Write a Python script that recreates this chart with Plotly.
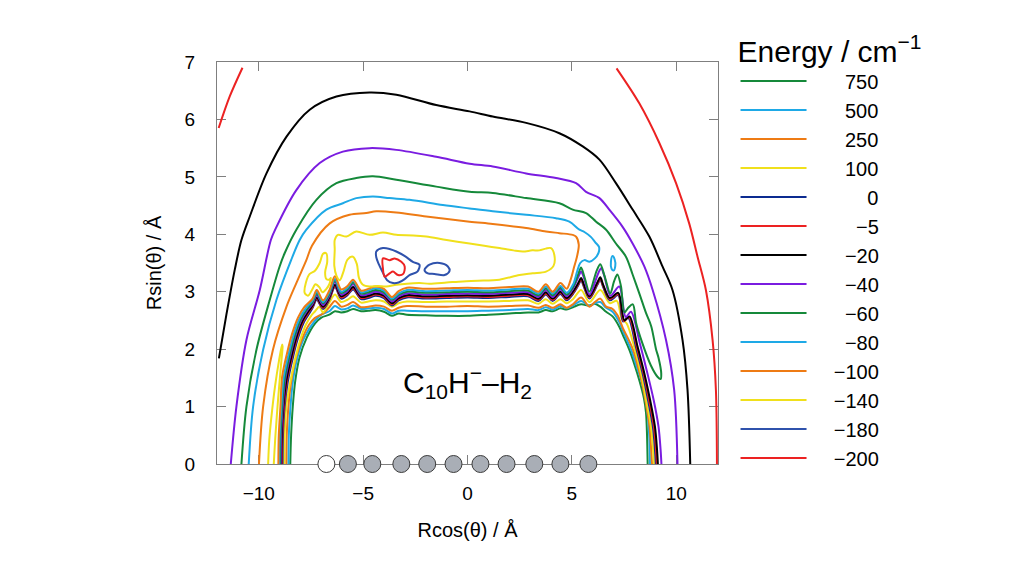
import plotly.graph_objects as go

# ---------------- data ----------------
levels = ["750", "500", "250", "100", "0", "−5", "−20", "−40", "−60", "−80", "−100", "−140", "−180", "−200"]

e750 = [(-8.49,0.00),(-8.45,0.50),(-8.37,1.00),(-8.25,1.45),(-8.05,1.85),(-7.70,2.20),(-7.30,2.45),(-7.00,2.55),
        (-6.62,2.60),(-6.35,2.66),(-6.05,2.64),(-5.75,2.66),(-5.48,2.70),(-5.10,2.66),(-4.75,2.67),(-4.40,2.68),
        (-4.00,2.65),(-3.62,2.58),(-3.30,2.62),(-2.90,2.60),(-2.00,2.59),(-1.00,2.58),(0.00,2.58),(1.00,2.60),
        (2.00,2.62),(2.90,2.64),(3.40,2.64),(3.75,2.68),(4.08,2.66),(4.45,2.71),(4.75,2.69),(5.05,2.73),(5.44,2.78),
        (5.84,2.76),(6.10,2.79),(6.36,2.74),(6.64,2.65),(6.95,2.57),(7.27,2.39),(7.50,2.20),(7.75,1.99),(8.00,1.73),
        (8.23,1.46),(8.45,1.15),(8.55,0.90),(8.60,0.50),(8.63,0.00)]

e500 = [(-8.58,0.00),(-8.56,0.50),(-8.48,1.00),(-8.36,1.45),(-8.15,1.85),(-7.82,2.20),(-7.32,2.49),(-7.00,2.60),
        (-6.62,2.66),(-6.35,2.75),(-6.05,2.69),(-5.75,2.71),(-5.48,2.76),(-5.10,2.70),(-4.75,2.71),(-4.40,2.72),
        (-4.00,2.70),(-3.62,2.62),(-3.30,2.67),(-2.90,2.67),(-2.00,2.66),(-1.00,2.66),(0.00,2.66),(1.00,2.67),
        (2.00,2.68),(2.90,2.70),(3.40,2.68),(3.75,2.73),(4.08,2.69),(4.45,2.75),(4.75,2.71),(5.05,2.76),(5.44,2.84),
        (5.84,2.75),(6.10,2.80),(6.36,2.82),(6.64,2.72),(6.95,2.65),(7.27,2.47),(7.50,2.27),(7.85,1.98),(8.10,1.70),
        (8.33,1.45),(8.53,1.12),(8.65,0.80),(8.71,0.45),(8.74,0.00)]

e250 = [(-8.68,0.00),(-8.66,0.50),(-8.58,1.00),(-8.44,1.45),(-8.22,1.85),(-7.92,2.18),(-7.60,2.42),(-7.32,2.54),
        (-6.92,2.62),(-6.62,2.73),(-6.35,2.84),(-6.05,2.74),(-5.75,2.77),(-5.48,2.82),(-5.10,2.73),(-4.75,2.74),
        (-4.40,2.76),(-4.00,2.74),(-3.62,2.67),(-3.30,2.72),(-2.90,2.75),(-2.00,2.74),(-1.00,2.74),(0.00,2.75),
        (1.00,2.74),(2.00,2.75),(2.90,2.76),(3.40,2.72),(3.75,2.77),(4.08,2.72),(4.45,2.78),(4.75,2.72),(5.05,2.78),
        (5.44,2.90),(5.84,2.74),(6.10,2.82),(6.36,2.88),(6.64,2.74),(6.95,2.70),(7.20,2.58),(7.45,2.36),(7.70,2.18),
        (7.95,1.97),(8.20,1.65),(8.40,1.35),(8.55,1.05),(8.72,0.65),(8.80,0.25),(8.84,0.00)]

e100 = [(-8.78,0.00),(-8.76,0.50),(-8.68,1.00),(-8.51,1.39),(-8.28,1.79),(-8.03,2.14),(-7.75,2.42),(-7.45,2.60),
        (-7.30,2.66),(-7.10,2.74),(-6.92,2.64),(-6.62,2.81),(-6.35,2.95),(-6.05,2.82),(-5.75,2.86),(-5.48,2.92),
        (-5.10,2.81),(-4.75,2.83),(-4.40,2.85),(-4.00,2.83),(-3.62,2.74),(-3.30,2.80),(-2.90,2.83),(-2.00,2.82),
        (-1.00,2.83),(0.00,2.83),(1.00,2.83),(2.00,2.84),(2.90,2.85),(3.40,2.79),(3.75,2.87),(4.08,2.79),(4.45,2.87),
        (4.75,2.80),(5.05,2.87),(5.44,3.03),(5.84,2.82),(6.36,3.03),(6.82,2.80),(7.15,2.84),(7.40,2.52),(7.62,2.45),
        (8.02,1.99),(8.34,1.53),(8.56,1.11),(8.79,0.65),(8.89,0.25),(8.93,0.00)]

e0 = [(-8.86,0.00),(-8.84,0.50),(-8.76,1.00),(-8.61,1.43),(-8.38,1.83),(-8.13,2.18),(-7.85,2.46),(-7.55,2.64),
      (-7.42,2.72),(-7.22,2.86),(-6.92,2.70),(-6.62,2.86),(-6.35,3.08),(-6.05,2.88),(-5.75,2.94),(-5.48,3.04),
      (-5.10,2.87),(-4.75,2.89),(-4.40,2.93),(-4.00,2.89),(-3.62,2.76),(-3.30,2.85),(-2.90,2.90),(-2.00,2.88),
      (-1.00,2.89),(0.00,2.90),(1.00,2.89),(2.00,2.91),(2.90,2.92),(3.40,2.84),(3.75,2.95),(4.08,2.84),(4.45,2.96),
      (4.75,2.85),(5.05,2.96),(5.32,3.12),(5.44,3.20),(5.56,3.10),(5.84,2.88),(6.22,3.12),(6.36,3.21),(6.50,3.08),
      (6.82,2.85),(7.22,2.94),(7.45,2.48),(7.69,2.55),
      (8.08,2.02),(8.40,1.56),(8.65,1.11),(8.88,0.65),(8.98,0.25),(9.02,0.00)]

em5 = [(-8.89,0.00),(-8.87,0.50),(-8.79,1.00),(-8.65,1.44),(-8.42,1.84),(-8.17,2.19),(-7.89,2.47),(-7.59,2.65),
       (-7.42,2.74),(-7.22,2.88),(-6.92,2.72),(-6.62,2.88),(-6.35,3.10),(-6.05,2.90),(-5.75,2.96),(-5.48,3.06),
       (-5.10,2.89),(-4.75,2.91),(-4.40,2.95),(-4.00,2.91),(-3.62,2.78),(-3.30,2.87),(-2.90,2.92),(-2.00,2.90),
       (-1.00,2.91),(0.00,2.92),(1.00,2.91),(2.00,2.93),(2.90,2.94),(3.40,2.86),(3.75,2.97),(4.08,2.86),(4.45,2.98),
       (4.75,2.87),(5.05,2.98),(5.32,3.14),(5.44,3.22),(5.56,3.12),(5.84,2.90),(6.22,3.14),(6.36,3.23),(6.50,3.10),
       (6.82,2.87),(7.22,2.96),(7.49,2.49),(7.73,2.56),
       (8.12,2.03),(8.44,1.57),(8.70,1.11),(8.93,0.65),(9.03,0.25),(9.07,0.00),
       (None,None),
       (-11.92,5.85),(-11.39,6.40),(-10.78,6.90),
       (None,None),
       (7.14,6.89),(8.23,6.28),(9.19,5.59),(9.99,4.89),(10.62,4.19),(11.02,3.61),(11.42,3.03),(11.74,2.16),
       (11.90,1.29),(11.95,0.00)]

em20 = [(-8.92,0.00),(-8.90,0.50),(-8.82,1.00),(-8.68,1.45),(-8.45,1.85),(-8.20,2.20),(-7.92,2.48),(-7.62,2.66),
        (-7.42,2.76),(-7.22,2.90),(-6.92,2.74),(-6.62,2.90),(-6.35,3.12),(-6.05,2.92),(-5.75,2.98),(-5.48,3.08),
        (-5.10,2.91),(-4.75,2.93),(-4.40,2.97),(-4.00,2.93),(-3.62,2.80),(-3.30,2.89),(-2.90,2.94),(-2.00,2.92),
        (-1.00,2.93),(0.00,2.94),(1.00,2.93),(2.00,2.95),(2.90,2.96),(3.40,2.88),(3.75,2.99),(4.08,2.88),(4.45,3.00),
        (4.75,2.89),(5.05,3.00),(5.32,3.16),(5.44,3.24),(5.56,3.14),(5.84,2.92),(6.22,3.16),(6.36,3.25),(6.50,3.12),
        (6.82,2.89),(7.22,2.98),(7.52,2.50),(7.76,2.57),
        (8.15,2.04),(8.47,1.58),(8.75,1.11),(8.98,0.65),(9.08,0.25),(9.12,0.00),
        (None,None),
        (-11.91,1.84),(-11.55,2.60),(-11.15,3.38),(-10.83,3.90),(-10.43,4.31),(-9.63,5.06),(-8.67,5.70),(-7.56,6.17),
        (-6.28,6.40),(-4.69,6.47),(-3.41,6.43),(-1.50,6.25),(0.10,6.14),(1.21,6.05),(2.81,5.94),(4.40,5.76),
        (5.52,5.53),(6.32,5.30),(7.11,4.89),(7.91,4.43),(8.71,3.96),(9.34,3.44),(9.82,3.03),(10.30,2.16),
        (10.54,1.29),(10.67,0.00)]

em40 = [(-8.95,0.00),(-8.93,0.50),(-8.85,1.00),(-8.73,1.47),(-8.50,1.87),(-8.25,2.22),(-7.97,2.50),(-7.67,2.68),
        (-7.42,2.79),(-7.22,2.94),(-6.92,2.77),(-6.62,2.93),(-6.35,3.17),(-6.05,2.95),(-5.75,3.01),(-5.48,3.13),
        (-5.10,2.94),(-4.75,2.96),(-4.40,3.00),(-4.00,2.96),(-3.62,2.83),(-3.30,2.92),(-2.90,2.97),(-2.00,2.95),
        (-1.00,2.96),(0.00,2.97),(1.00,2.96),(2.00,2.98),(2.90,2.99),(3.40,2.91),(3.75,3.03),(4.08,2.91),(4.45,3.04),
        (4.75,2.92),(5.05,3.05),(5.30,3.25),(5.44,3.35),(5.58,3.24),(5.84,2.95),(6.24,3.30),(6.40,3.41),(6.55,3.28),
        (6.85,2.93),(7.27,3.09),(7.58,2.56),(7.83,2.65),
        (8.27,2.08),(8.59,1.62),(8.92,1.11),(9.15,0.65),(9.25,0.25),(9.29,0.00),
        (None,None),
        (-11.34,0.00),(-11.07,1.00),(-10.59,2.16),(-9.95,3.03),(-9.42,3.90),(-9.15,4.13),(-8.20,4.77),(-7.08,5.24),
        (-5.97,5.44),(-4.69,5.50),(-3.41,5.47),(-1.50,5.35),(0.10,5.23),(1.21,5.18),(2.81,5.06),(4.24,4.98),
        (5.20,4.89),(5.68,4.74),(6.32,4.63),(6.79,4.43),(7.43,4.13),(7.91,3.84),(8.47,3.44),(8.87,3.03),
        (9.51,2.16),(9.90,1.29),(10.06,0.00)]

em60 = [(-8.98,0.00),(-8.96,0.50),(-8.88,1.00),(-8.76,1.48),(-8.53,1.88),(-8.28,2.23),(-8.00,2.51),(-7.70,2.69),
        (-7.42,2.82),(-7.22,2.97),(-6.92,2.80),(-6.62,2.96),(-6.35,3.20),(-6.05,2.98),(-5.75,3.04),(-5.48,3.16),
        (-5.10,2.97),(-4.75,2.99),(-4.40,3.03),(-4.00,2.99),(-3.62,2.86),(-3.30,2.95),(-2.90,3.00),(-2.00,2.98),
        (-1.00,2.99),(0.00,3.00),(1.00,2.99),(2.00,3.01),(2.90,3.02),(3.40,2.94),(3.75,3.06),(4.08,2.94),(4.45,3.07),
        (4.75,2.95),(5.05,3.08),(5.30,3.30),(5.44,3.42),(5.60,3.26),(5.84,3.00),(6.18,3.36),(6.36,3.48),(6.56,3.28),
        (6.84,2.97),(7.02,3.18),(7.18,3.30),(7.35,3.10),(7.52,2.64),(7.70,2.72),(7.92,2.78),(8.08,2.45),(8.38,2.10),
        (8.78,1.72),(9.10,1.52),(9.25,1.48),(9.28,1.58),(9.15,1.85),(9.03,2.00),(8.80,2.40),(8.55,2.63),(8.25,2.95),
        (7.91,3.30),(7.59,3.61),(7.11,3.84),(6.64,4.08),(6.16,4.22),(5.68,4.37),(5.04,4.43),(4.40,4.54),(2.81,4.63),
        (1.21,4.72),(0.10,4.74),(-1.50,4.83),(-3.41,4.95),(-4.53,5.01),(-5.33,4.98),(-6.28,4.89),(-7.24,4.60),
        (-8.20,4.08),(-8.76,3.67),(-9.00,3.44),(-9.47,2.86),(-10.11,1.99),(-10.59,1.00),(-10.83,0.00)]

em80 = [(-9.02,0.00),(-9.00,0.50),(-8.92,1.00),(-8.81,1.50),(-8.58,1.90),(-8.33,2.25),(-8.05,2.53),(-7.75,2.71),
        (-7.42,2.85),(-7.22,3.00),(-6.92,2.82),(-6.62,2.99),(-6.35,3.22),(-6.05,3.00),(-5.75,3.07),(-5.48,3.19),
        (-5.10,2.99),(-4.75,3.02),(-4.40,3.06),(-4.00,3.02),(-3.62,2.88),(-3.30,2.97),(-2.90,3.03),(-2.00,3.01),
        (-1.00,3.02),(0.00,3.03),(1.00,3.02),(2.00,3.04),(2.90,3.05),(3.40,2.97),(3.75,3.09),(4.08,2.97),(4.45,3.10),
        (4.75,2.98),(5.05,3.12),(5.25,3.35),(5.40,3.50),(5.60,3.55),(5.84,3.52),(6.10,3.58),(6.28,3.68),(6.30,3.78),
        (6.12,3.86),(5.92,3.95),(5.60,4.04),(5.36,4.08),(4.88,4.22),(4.24,4.28),(2.81,4.34),(1.21,4.40),(0.10,4.45),
        (-1.18,4.51),(-2.78,4.60),(-3.73,4.63),(-4.53,4.66),(-5.33,4.63),(-5.97,4.54),(-6.76,4.43),(-7.72,4.08),
        (-8.04,3.90),(-8.45,3.55),(-9.15,2.86),(-9.79,1.99),(-10.27,1.00),(-10.48,0.00),
        (None,None),
        (6.95,3.62),(7.05,3.56),(7.08,3.45),(7.00,3.37),(6.90,3.40),(6.87,3.52),(6.95,3.62)]

em100 = [(-9.06,0.00),(-9.04,0.50),(-8.96,1.00),(-8.88,1.52),(-8.65,1.92),(-8.40,2.27),(-8.12,2.55),(-7.82,2.73),
         (-7.42,2.88),(-7.22,3.03),(-6.92,2.85),(-6.62,3.02),(-6.35,3.27),(-6.05,3.04),(-5.75,3.10),(-5.48,3.21),
         (-5.10,3.02),(-4.75,3.05),(-4.40,3.09),(-4.00,3.05),(-3.62,2.91),(-3.30,3.01),(-2.90,3.07),(-2.00,3.05),
         (-1.00,3.06),(0.00,3.07),(1.00,3.06),(2.00,3.08),(2.90,3.09),(3.40,3.00),(3.75,3.13),(4.08,3.00),(4.45,3.15),
         (4.75,3.05),(4.95,3.22),(5.10,3.42),(5.25,3.62),(5.33,3.82),(5.20,3.96),(5.04,3.99),(4.40,4.02),(3.76,4.05),
         (2.81,4.11),(1.21,4.18),(0.10,4.22),(-1.98,4.31),(-3.41,4.38),(-4.37,4.40),(-4.85,4.37),(-5.65,4.34),
         (-6.60,4.19),(-7.45,3.80),(-7.72,3.55),(-8.20,3.15),(-8.67,2.74),(-9.32,1.99),(-9.79,1.00),(-9.99,0.00)]

em140 = [(-6.21,3.99),(-5.80,3.96),(-5.33,4.05),(-4.69,3.99),(-4.05,4.03),(-3.41,3.99),(-2.60,3.98),(-1.98,3.96),
         (-1.00,3.90),(0.10,3.84),(0.80,3.80),(1.53,3.76),(2.20,3.72),(2.65,3.70),(3.10,3.72),(3.44,3.72),(3.75,3.75),
         (4.00,3.76),(4.16,3.64),(4.12,3.45),(3.76,3.35),(3.12,3.32),(2.49,3.29),(1.53,3.21),(0.50,3.19),(-0.22,3.18),
         (-1.00,3.16),(-1.82,3.14),(-2.30,3.15),(-2.90,3.14),(-3.41,3.12),(-3.89,3.09),(-4.30,3.10),(-4.69,3.09),
         (-5.01,3.12),(-5.20,3.24),(-5.30,3.48),(-5.49,3.61),(-5.75,3.56),(-5.95,3.34),(-6.12,3.20),(-6.28,3.28),
         (-6.38,3.45),(-6.36,3.73),(-6.36,3.90),(-6.21,3.99),
         (None,None),
         (-6.55,3.24),(-6.62,3.21),(-6.76,3.22),(-6.82,3.34),(-6.72,3.52),(-6.77,3.67),(-6.92,3.66),(-7.08,3.50),
         (-7.32,3.36),(-7.56,3.31),(-7.74,3.16),(-7.80,2.98),(-7.64,2.93),(-7.45,3.03),(-7.28,3.13),(-7.10,3.08),
         (-6.95,2.99),(-6.78,3.04),(-6.62,3.13),(-6.55,3.24),
         (None,None),
         (-9.55,0.00),(-9.50,0.40),(-9.40,0.80),(-9.22,1.35),(-9.03,1.80),(-8.88,2.08),(-8.86,2.05),(-8.94,1.70),
         (-9.08,1.10),(-9.20,0.50),(-9.28,0.00)]

em180 = [(-4.37,3.70),(-4.05,3.76),(-3.70,3.74),(-3.41,3.70),(-3.00,3.62),(-2.62,3.52),(-2.30,3.47),(-2.40,3.35),
         (-2.78,3.29),(-3.01,3.22),(-3.30,3.16),(-3.57,3.15),(-3.85,3.20),(-4.05,3.33),(-4.25,3.48),(-4.37,3.60),
         (-4.37,3.70),
         (None,None),
         (-2.06,3.38),(-1.82,3.47),(-1.34,3.50),(-0.94,3.44),(-0.86,3.36),(-1.10,3.29),(-1.58,3.31),(-1.90,3.32),
         (-2.06,3.38)]

em200 = [(-4.05,3.58),(-3.73,3.55),(-3.49,3.58),(-3.17,3.52),(-3.01,3.44),(-3.08,3.31),(-3.33,3.29),(-3.57,3.35),
         (-3.73,3.32),(-3.97,3.26),(-4.05,3.40),(-4.05,3.58)]

atom_x = [-6.76, -5.73, -4.56, -3.17, -1.93, -0.67, 0.62, 1.87, 3.20, 4.45, 5.79]
atom_label = ["H", "C", "C", "C", "C", "C", "C", "C", "C", "C", "C"]

x_ticks = [-10, -5, 0, 5, 10]
y_ticks = [0, 1, 2, 3, 4, 5, 6, 7]

# ---------------- styles ----------------
GREEN = "#15893a"
LBLUE = "#1ea9e6"
ORANGE = "#ee7b14"
YELLOW = "#f0e01c"
DBLUE = "#0c2b90"
RED = "#ec2222"
BLACK = "#000000"
PURPLE = "#7a1ce0"
MBLUE = "#2f52ac"

series = [
    (levels[0], e750, GREEN), (levels[1], e500, LBLUE), (levels[2], e250, ORANGE), (levels[3], e100, YELLOW),
    (levels[4], e0, DBLUE), (levels[5], em5, RED), (levels[6], em20, BLACK), (levels[7], em40, PURPLE),
    (levels[8], em60, GREEN), (levels[9], em80, LBLUE), (levels[10], em100, ORANGE), (levels[11], em140, YELLOW),
    (levels[12], em180, MBLUE), (levels[13], em200, RED),
]

FONT = "Liberation Sans, Arial, Helvetica, sans-serif"
FS = "\u2007"

fig = go.Figure()
for name, pts, col in series:
    xs = [p[0] for p in pts]
    ys = [p[1] for p in pts]
    pad = FS * max(0, 6 - len(name))
    fig.add_trace(go.Scatter(
        x=xs, y=ys, mode="lines", name=pad + name,
        line=dict(color=col, width=2, shape="spline", smoothing=0.9),
        connectgaps=False, hoverinfo="skip",
    ))

fig.add_trace(go.Scatter(
    x=atom_x, y=[0] * len(atom_x), mode="markers", showlegend=False, cliponaxis=False,
    text=atom_label, hoverinfo="text",
    marker=dict(size=17, color=["#ffffff" if a == "H" else "#a9aeb6" for a in atom_label],
                line=dict(color="#3c3c3c", width=1)),
))

fig.add_annotation(x=0, y=1.42, xref="x", yref="y", showarrow=False,
                   text="C<sub>10</sub>H<sup>−</sup>–H<sub>2</sub>",
                   font=dict(family=FONT, size=30, color="black"))

axis_common = dict(showline=True, mirror="ticks", linecolor="#7f7f7f", linewidth=1.2,
                   ticks="inside", ticklen=9, tickcolor="#7f7f7f", tickwidth=1.2,
                   showgrid=False, zeroline=False, layer="below traces", automargin=True,
                   tickfont=dict(family=FONT, size=19, color="black"))

fig.update_xaxes(range=[-12, 12], tickvals=x_ticks, ticklabelstandoff=12,
                 title=dict(text="Rcos(θ) / Å", font=dict(family=FONT, size=20, color="black"), standoff=20),
                 **axis_common)
fig.update_yaxes(range=[0, 7], tickvals=y_ticks, ticklabelstandoff=17,
                 title=dict(text="Rsin(θ) / Å", font=dict(family=FONT, size=20, color="black"), standoff=17),
                 **axis_common)

fig.update_layout(
    width=1024, height=569,
    margin=dict(l=209, r=314, t=54, b=113),
    paper_bgcolor="white", plot_bgcolor="white",
    font=dict(family=FONT, color="black"),
    legend=dict(
        x=1.035, y=1.098, xanchor="left", yanchor="top",
        title=dict(text="Energy / cm<sup>−1</sup>", font=dict(family=FONT, size=30)),
        font=dict(family=FONT, size=20), itemwidth=66, tracegroupgap=0,
        bgcolor="rgba(0,0,0,0)", maxheight=560,
    ),
)

fig.write_html("out.html")
